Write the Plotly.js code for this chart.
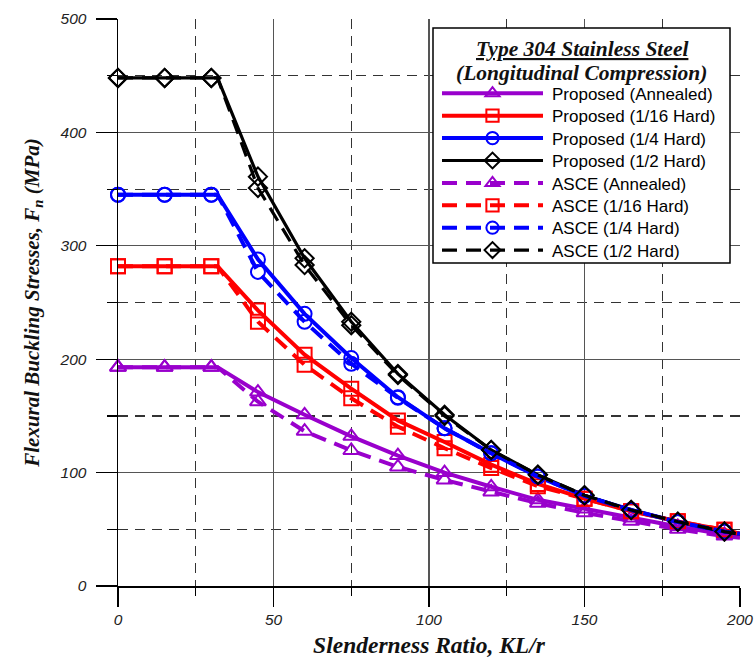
<!DOCTYPE html>
<html>
<head>
<meta charset="utf-8">
<script src="https://cdn.plot.ly/plotly-3.0.1.min.js"></script>
<style>
html,body{margin:0;padding:0;background:#fff;}
#chart{width:756px;height:659px;}
</style>
</head>
<body>
<div id="chart"></div>
<script>
// Slenderness ratio KL/r (markers every 15; 32 = end of plateau, 200 = end of curve)
const slenderness = [0, 15, 30, 32, 45, 60, 75, 90, 105, 120, 135, 150, 165, 180, 195, 200];
const markerAt    = [1, 1, 1, 0, 1, 1, 1, 1, 1, 1, 1, 1, 1, 1, 1, 0];

// Flexural buckling stresses Fn (MPa)
const propAnnealed = [193, 193, 193, 193, 171, 151, 132, 115, 100, 87.5, 76, 68, 60, 52.5, 45.5, 43.5];
const propHard16   = [282, 282, 282, 282, 243, 204, 174, 146, 127, 107, 90, 77, 66, 57, 49.5, 46];
const propHard4    = [345, 345, 345, 345, 288, 240, 201, 166.5, 139, 117, 96.5, 79.5, 67, 56.5, 48, 46];
const propHard2    = [448, 448, 448, 448, 361, 289, 233, 187, 151, 120, 98, 80, 67, 56.7, 48, 45.5];
const asceAnnealed = [193, 193, 193, 193, 162.5, 136.5, 119.5, 105, 93.5, 83, 73, 64.5, 57, 50, 44, 42.5];
const asceHard16   = [282, 282, 282, 282, 233, 195, 165.5, 140.5, 121.5, 104, 88, 77, 66, 57, 49.5, 46];
const asceHard4    = [345, 345, 345, 345, 277, 233, 196, 166, 139, 117, 96.5, 79.5, 67, 56.5, 48, 46];
const asceHard2    = [448, 448, 448, 448, 351, 283, 230, 186, 150, 120, 98, 80, 67, 56.7, 48, 45.5];

const seriesNames = ['Proposed (Annealed)', 'Proposed (1/16 Hard)', 'Proposed (1/4 Hard)', 'Proposed (1/2 Hard)',
                     'ASCE (Annealed)', 'ASCE (1/16 Hard)', 'ASCE (1/4 Hard)', 'ASCE (1/2 Hard)'];
const seriesData = [propAnnealed, propHard16, propHard4, propHard2, asceAnnealed, asceHard16, asceHard4, asceHard2];
const colors  = ['#9900CC', '#FF0000', '#0000FF', '#000000'];
const symbols = ['triangle-up-open', 'square-open', 'circle-open', 'diamond-open'];
const legendTitle1 = '<u>Type 304 Stainless Steel</u>';
const legendTitle2 = '(Longitudinal Compression)';

const traces = seriesData.map((ys, i) => {
  const k = i % 4;
  const dashed = i >= 4;
  return {
    type: 'scatter', mode: 'lines+markers', name: seriesNames[i],
    x: slenderness, y: ys,
    line: {color: colors[k], width: k === 3 ? 3.2 : 4, dash: dashed ? '15px,9px' : 'solid'},
    marker: {symbol: symbols[k], color: colors[k], opacity: 1,
             size: markerAt.map(m => m ? 14 : 0),
             line: {color: colors[k], width: 2}},
    cliponaxis: false
  };
});

const tickFont = {family: 'Liberation Sans, Arial, sans-serif', size: 15.5, color: '#222', style: 'italic'};
const serif = 'Liberation Serif, Times New Roman, serif';
const titleFont = {family: serif, size: 21, color: '#111', weight: 'bold', style: 'italic'};
const legTitleFont = {family: serif, size: 21.5, color: '#111', weight: 'bold', style: 'italic'};

// paper coordinates of the legend box
const px = v => (v - 118) / 622;
const py = v => (586 - v) / 567;

const layout = {
  width: 756, height: 659,
  margin: {l: 118, r: 16, t: 19, b: 73},
  paper_bgcolor: '#fff', plot_bgcolor: '#fff',
  showlegend: true,
  xaxis: {
    range: [0, 200], dtick: 50, tick0: 0,
    showline: true, linecolor: '#000', linewidth: 1.5,
    showgrid: true, gridcolor: '#555', gridwidth: 1.3, zeroline: false,
    ticks: 'outside', ticklen: 19, tickwidth: 1.2, tickcolor: '#000',
    tickfont: tickFont,
    minor: {dtick: 25, showgrid: true, gridcolor: '#333', gridwidth: 1.2, griddash: '10px,7px',
            ticks: 'outside', ticklen: 8, tickwidth: 1.2, tickcolor: '#000'},
    title: {text: 'Slenderness Ratio, KL/r', font: Object.assign({}, titleFont, {size: 23.5}), standoff: 9}
  },
  yaxis: {
    range: [0, 500], dtick: 100, tick0: 0,
    showline: true, linecolor: '#000', linewidth: 1.5,
    showgrid: true, gridcolor: '#555', gridwidth: 1.3, zeroline: false,
    ticks: 'outside', ticklen: 21, tickwidth: 1.2, tickcolor: '#000',
    tickfont: tickFont, ticklabelstandoff: 6,
    minor: {dtick: 50, showgrid: true, gridcolor: '#333', gridwidth: 1.2, griddash: '10px,7px',
            ticks: 'outside', ticklen: 10, tickwidth: 1.2, tickcolor: '#000'},
    title: {text: 'Flexural Buckling Stresses, <i>F</i><sub>n</sub> (MPa)', font: titleFont, standoff: 14}
  },
  shapes: [{
    type: 'rect', xref: 'paper', yref: 'paper', layer: 'above',
    x0: px(433), x1: px(730), y0: py(263), y1: py(28),
    fillcolor: '#fff', line: {color: '#000', width: 1.5}
  }],
  annotations: [
    {xref: 'paper', yref: 'paper', x: px(581.5), y: py(48.5), xanchor: 'center', yanchor: 'middle',
     showarrow: false, text: legendTitle1, font: legTitleFont},
    {xref: 'paper', yref: 'paper', x: px(581.5), y: py(72.5), xanchor: 'center', yanchor: 'middle',
     showarrow: false, text: legendTitle2, font: legTitleFont}
  ],
  legend: {
    x: px(433), y: py(81), xanchor: 'left', yanchor: 'top',
    bgcolor: 'rgba(0,0,0,0)', borderwidth: 0,
    font: {family: 'Liberation Sans, Arial, sans-serif', size: 17, color: '#000'},
    itemwidth: 109,
    tracegroupgap: 0
  }
};

Plotly.newPlot('chart', traces, layout, {displayModeBar: false, staticPlot: true}).then(gd => {
  // lengthen legend line samples and tighten row spacing to match the reference
  const L = 101, start = 9, rowGap = 22.4, firstRowY = 93.3;
  gd.querySelectorAll('.legend .legendlines path').forEach(p => { p.setAttribute('d', 'M' + start + ',0h' + L); });
  gd.querySelectorAll('.legend .legendpoints path.scatterpts').forEach(p => {
    p.setAttribute('transform', 'translate(' + (start + L / 2) + ',0)');
  });
  const rows = Array.from(gd.querySelectorAll('.legend g.traces'));
  if (rows.length) {
    const parse = el => {
      const m = /translate\(\s*([-\d.]+)[ ,]+([-\d.]+)/.exec(el.getAttribute('transform') || '');
      return m ? [parseFloat(m[1]), parseFloat(m[2])] : [0, 0];
    };
    const host = gd.getBoundingClientRect();
    const firstLine = rows[0].querySelector('.legendlines path');
    const r = firstLine.getBoundingClientRect();
    const curY = r.top + r.height / 2 - host.top;
    const [x0, y0] = parse(rows[0]);
    const base = y0 + (firstRowY - curY);
    rows.forEach((row, i) => {
      const [x] = parse(row);
      row.setAttribute('transform', 'translate(' + x + ',' + (base + i * rowGap) + ')');
    });
  }
});
</script>
</body>
</html>
